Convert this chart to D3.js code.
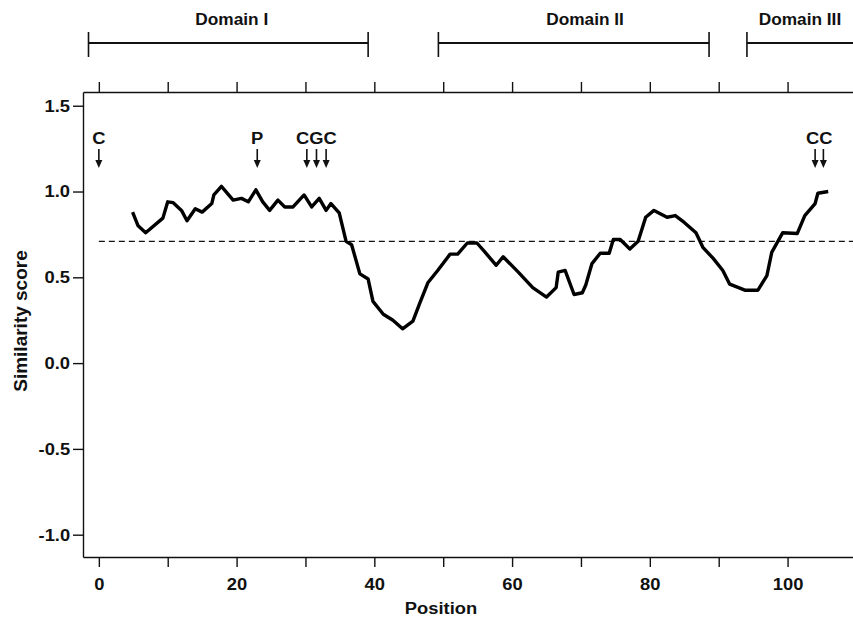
<!DOCTYPE html>
<html>
<head>
<meta charset="utf-8">
<script src="https://cdn.jsdelivr.net/npm/d3@7"></script>
<style>
  body { margin: 0; background: #fff; }
  svg text { font-family: "Liberation Sans", Arial, Helvetica, sans-serif; fill: #111; font-weight: bold; }
  .wide { transform-box: fill-box; transform-origin: center; transform: scaleX(1.08); }
  .axis path, .axis line { stroke: #111; stroke-width: 1.4; }
</style>
</head>
<body>
<script>
/* similarity score along the sequence */
var positions = [4.9, 5.7, 6.8, 9.3, 10.0, 10.8, 12.0, 12.8, 14.0, 15.0,
  16.4, 16.7, 17.8, 19.5, 20.7, 21.7, 22.8, 23.8, 24.8, 26.0,
  27.0, 28.2, 29.8, 30.9, 32.0, 33.0, 33.7, 34.9, 35.9, 36.7,
  37.9, 39.1, 39.8, 41.3, 42.7, 44.1, 45.6, 46.6, 47.8, 49.2,
  51.0, 52.1, 53.5, 54.9, 56.1, 57.7, 58.7, 60.9, 63.0, 65.0,
  66.4, 66.7, 67.7, 69.0, 70.2, 70.7, 71.6, 72.8, 74.1, 74.7,
  75.7, 77.1, 78.3, 79.4, 80.6, 82.5, 83.7, 85.0, 86.7, 87.7,
  89.2, 90.6, 91.6, 93.8, 95.7, 97.0, 97.7, 99.3, 101.4, 102.5,
  104.0, 104.4, 105.9]
var scores = [0.88, 0.80, 0.76, 0.845, 0.94, 0.935, 0.89, 0.83, 0.90, 0.88,
  0.93, 0.98, 1.03, 0.95, 0.96, 0.94, 1.01, 0.94, 0.89, 0.95,
  0.91, 0.91, 0.98, 0.91, 0.96, 0.89, 0.93, 0.875, 0.71, 0.69,
  0.52, 0.49, 0.36, 0.285, 0.25, 0.20, 0.245, 0.35, 0.47, 0.54,
  0.635, 0.635, 0.70, 0.70, 0.645, 0.57, 0.62, 0.53, 0.44, 0.385,
  0.44, 0.53, 0.54, 0.40, 0.41, 0.455, 0.58, 0.64, 0.64, 0.72,
  0.72, 0.665, 0.71, 0.85, 0.89, 0.85, 0.86, 0.82, 0.76, 0.675,
  0.61, 0.54, 0.46, 0.425, 0.425, 0.51, 0.645, 0.76, 0.755, 0.86,
  0.93, 0.99, 1.00]

var threshold = 0.71

/* residue markers */
var markLabels = ["C", "P", "CGC", "CC"]
var markPositions = [[0], [23], [30.2, 31.6, 33], [104, 105.2]]

/* domains shown above the plot */
var domainNames = ["Domain I", "Domain II", "Domain III"]
var domainStart = [-1.5, 49.3, 94.1]
var domainEnd = [39.1, 88.6, 112]
var domainLabelAt = [19.3, 70.6, 101.8]

var xTicks = [0, 10, 20, 30, 40, 50, 60, 70, 80, 90, 100, 110]
var xLabelled = [0, 20, 40, 60, 80, 100]
var yTicks = [-1.0, -0.5, 0.0, 0.5, 1.0, 1.5]

var W = 853, H = 627
var plot = {left: 83, right: 853, top: 92, bottom: 557}

var x = d3.scaleLinear().domain([-2.3, 109.5]).range([plot.left, plot.right])
var y = d3.scaleLinear().domain([-1.13, 1.58]).range([plot.bottom, plot.top])

var svg = d3.select("body").append("svg")
  .attr("width", W)
  .attr("height", H)

/* axes */
svg.append("g")
  .attr("class", "axis")
  .attr("transform", "translate(0," + plot.top + ")")
  .call(d3.axisTop(x).tickValues(xTicks).tickSize(10).tickSizeOuter(0).tickFormat(""))

svg.append("g")
  .attr("class", "axis")
  .attr("transform", "translate(0," + plot.bottom + ")")
  .call(d3.axisBottom(x).tickValues(xTicks).tickSize(10).tickSizeOuter(0).tickPadding(11)
    .tickFormat(function(d) { return xLabelled.indexOf(d) >= 0 ? d : "" }))

svg.append("g")
  .attr("class", "axis")
  .attr("transform", "translate(" + plot.left + ",0)")
  .call(d3.axisLeft(y).tickValues(yTicks).tickSize(10).tickSizeOuter(0).tickPadding(4)
    .tickFormat(function(d) { return d.toFixed(1) }))

svg.selectAll(".axis text")
  .attr("font-size", 17)
  .attr("font-family", null)
  .attr("fill", "#111")

svg.selectAll(".axis .tick text").classed("wide", true)

/* axis titles */
svg.append("text")
  .attr("class", "wide")
  .attr("x", 441)
  .attr("y", 614)
  .attr("text-anchor", "middle")
  .attr("font-size", 17)
  .text("Position")

svg.append("text")
  .attr("transform", "translate(27," + 321 + ") rotate(-90)")
  .attr("text-anchor", "middle")
  .attr("font-size", 19)
  .text("Similarity score")

/* domain bars */
var dom = svg.append("g").attr("id", "domains")
domainNames.forEach(function(name, i) {
  var g = dom.append("g")
  g.append("line")
    .attr("x1", x(domainStart[i])).attr("x2", x(domainEnd[i]))
    .attr("y1", 43).attr("y2", 43)
    .attr("stroke", "#111").attr("stroke-width", 1.8)
  ;[domainStart[i], domainEnd[i]].forEach(function(p) {
    g.append("line")
      .attr("x1", x(p)).attr("x2", x(p))
      .attr("y1", 32).attr("y2", 57)
      .attr("stroke", "#111").attr("stroke-width", 1.6)
  })
  g.append("text")
    .attr("class", "wide")
    .attr("x", x(domainLabelAt[i]))
    .attr("y", 25)
    .attr("text-anchor", "middle")
    .attr("font-size", 16)
    .text(name)
})

/* threshold */
svg.append("line")
  .attr("x1", x(0)).attr("x2", x(109.5))
  .attr("y1", y(threshold)).attr("y2", y(threshold))
  .attr("stroke", "#111")
  .attr("stroke-width", 1.3)
  .attr("stroke-dasharray", "6,4")

/* score line */
var line = d3.line()
  .x(function(d, i) { return x(positions[i]) })
  .y(function(d) { return y(d) })

svg.append("path")
  .datum(scores)
  .attr("d", line)
  .attr("fill", "none")
  .attr("stroke", "#000")
  .attr("stroke-width", 3.4)
  .attr("stroke-linejoin", "round")

/* residue arrows */
var marks = svg.append("g").attr("id", "marks")
markLabels.forEach(function(lab, i) {
  var ps = markPositions[i]
  var mid = (x(ps[0]) + x(ps[ps.length - 1])) / 2
  marks.append("text")
    .attr("class", "wide")
    .attr("x", mid)
    .attr("y", 144)
    .attr("text-anchor", "middle")
    .attr("font-size", 17)
    .text(lab)
  ps.forEach(function(p) {
    var px = x(p)
    marks.append("line")
      .attr("x1", px).attr("x2", px)
      .attr("y1", 149).attr("y2", 162)
      .attr("stroke", "#111").attr("stroke-width", 1.6)
    marks.append("path")
      .attr("d", "M" + (px - 3.5) + ",160L" + (px + 3.5) + ",160L" + px + ",168Z")
      .attr("fill", "#111")
  })
})
</script>
</body>
</html>
